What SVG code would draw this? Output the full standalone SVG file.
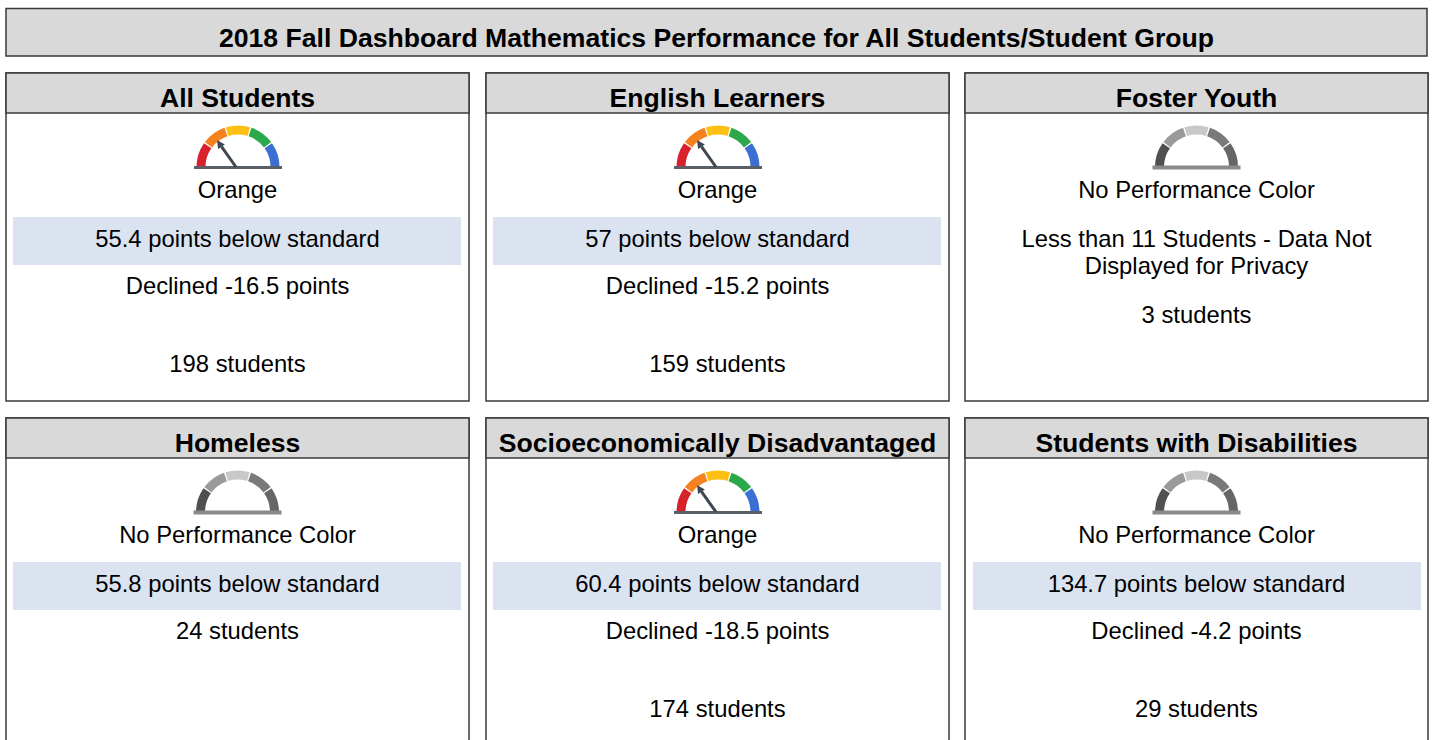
<svg xmlns="http://www.w3.org/2000/svg" xmlns:xlink="http://www.w3.org/1999/xlink" width="1433" height="740" viewBox="0 0 1433 740">
<style>
.box{fill:#ffffff;stroke:#3a3a3a;stroke-width:1.5}
.hdr{fill:#d9d9d9;stroke:#3a3a3a;stroke-width:1.5}
.band{fill:#dae3ef}
.ttl{font-family:"Liberation Sans",Arial,sans-serif;font-weight:bold;font-size:26.6px;fill:#000;text-anchor:middle}
.txt{font-family:"Liberation Sans",Arial,sans-serif;font-size:23.8px;fill:#000;text-anchor:middle}
.seg{fill:none;stroke-width:9}
</style>
<defs>
<g id="gaugeColor">
<path class="seg" stroke="#d7222b" d="M-37,0 A37,37 0 0 1 -30.31,-21.22"/>
<path class="seg" stroke="#f5821f" d="M-29.55,-22.27 A37,37 0 0 1 -12.05,-34.98"/>
<path class="seg" stroke="#fcbf12" d="M-10.82,-35.38 A37,37 0 0 1 10.82,-35.38"/>
<path class="seg" stroke="#2aa84a" d="M12.05,-34.98 A37,37 0 0 1 29.55,-22.27"/>
<path class="seg" stroke="#3b6fd4" d="M30.31,-21.22 A37,37 0 0 1 37,0"/>
<line x1="-44" y1="0.5" x2="44" y2="0.5" stroke="#5a6068" stroke-width="3"/>
<line x1="-2" y1="0" x2="-16.5" y2="-20.3" stroke="#3d4651" stroke-width="3"/>
<polygon points="-21,-27 -13.2,-22.6 -19.9,-18.1" fill="#3d4651"/>
</g>
<g id="gaugeGray">
<path class="seg" stroke="#505050" d="M-37,0 A37,37 0 0 1 -30.31,-21.22"/>
<path class="seg" stroke="#9a9a9a" d="M-29.55,-22.27 A37,37 0 0 1 -12.05,-34.98"/>
<path class="seg" stroke="#c8c8c8" d="M-10.82,-35.38 A37,37 0 0 1 10.82,-35.38"/>
<path class="seg" stroke="#7a7a7a" d="M12.05,-34.98 A37,37 0 0 1 29.55,-22.27"/>
<path class="seg" stroke="#666666" d="M30.31,-21.22 A37,37 0 0 1 37,0"/>
<line x1="-44" y1="0.5" x2="44" y2="0.5" stroke="#8a8a8a" stroke-width="4"/>
</g>
</defs>
<rect width="1433" height="740" fill="#ffffff"/>

<g id="title">
<rect class="hdr" x="6" y="8.5" width="1421" height="47.5"/>
<text class="ttl" x="716.5" y="47">2018 Fall Dashboard Mathematics Performance for All Students/Student Group</text>
</g>

<g id="all-students">
<rect class="box" x="6" y="73" width="463" height="328"/>
<rect class="hdr" x="6" y="73" width="463" height="40"/>
<text class="ttl" x="237.5" y="107">All Students</text>
<use xlink:href="#gaugeColor" x="238" y="167"/>
<text class="txt" x="237.5" y="198">Orange</text>
<rect class="band" x="13" y="217" width="448" height="48"/>
<text class="txt" x="237.5" y="247">55.4 points below standard</text>
<text class="txt" x="237.5" y="294">Declined -16.5 points</text>
<text class="txt" x="237.5" y="372">198 students</text>
</g>

<g id="english-learners">
<rect class="box" x="486" y="73" width="463" height="328"/>
<rect class="hdr" x="486" y="73" width="463" height="40"/>
<text class="ttl" x="717.5" y="107">English Learners</text>
<use xlink:href="#gaugeColor" x="718" y="167"/>
<text class="txt" x="717.5" y="198">Orange</text>
<rect class="band" x="493" y="217" width="448" height="48"/>
<text class="txt" x="717.5" y="247">57 points below standard</text>
<text class="txt" x="717.5" y="294">Declined -15.2 points</text>
<text class="txt" x="717.5" y="372">159 students</text>
</g>

<g id="foster-youth">
<rect class="box" x="965" y="73" width="463" height="328"/>
<rect class="hdr" x="965" y="73" width="463" height="40"/>
<text class="ttl" x="1196.5" y="107">Foster Youth</text>
<use xlink:href="#gaugeGray" x="1196.5" y="167"/>
<text class="txt" x="1196.5" y="198">No Performance Color</text>
<text class="txt" x="1196.5" y="247">Less than 11 Students - Data Not</text>
<text class="txt" x="1196.5" y="274">Displayed for Privacy</text>
<text class="txt" x="1196.5" y="323">3 students</text>
</g>

<g id="homeless">
<rect class="box" x="6" y="418" width="463" height="330"/>
<rect class="hdr" x="6" y="418" width="463" height="40"/>
<text class="ttl" x="237.5" y="452">Homeless</text>
<use xlink:href="#gaugeGray" x="237.5" y="512"/>
<text class="txt" x="237.5" y="543">No Performance Color</text>
<rect class="band" x="13" y="562" width="448" height="48"/>
<text class="txt" x="237.5" y="592">55.8 points below standard</text>
<text class="txt" x="237.5" y="639">24 students</text>
</g>

<g id="socioeconomically-disadvantaged">
<rect class="box" x="486" y="418" width="463" height="330"/>
<rect class="hdr" x="486" y="418" width="463" height="40"/>
<text class="ttl" x="717.5" y="452">Socioeconomically Disadvantaged</text>
<use xlink:href="#gaugeColor" x="718" y="512"/>
<text class="txt" x="717.5" y="543">Orange</text>
<rect class="band" x="493" y="562" width="448" height="48"/>
<text class="txt" x="717.5" y="592">60.4 points below standard</text>
<text class="txt" x="717.5" y="639">Declined -18.5 points</text>
<text class="txt" x="717.5" y="717">174 students</text>
</g>

<g id="students-with-disabilities">
<rect class="box" x="965" y="418" width="463" height="330"/>
<rect class="hdr" x="965" y="418" width="463" height="40"/>
<text class="ttl" x="1196.5" y="452">Students with Disabilities</text>
<use xlink:href="#gaugeGray" x="1196.5" y="512"/>
<text class="txt" x="1196.5" y="543">No Performance Color</text>
<rect class="band" x="973" y="562" width="448" height="48"/>
<text class="txt" x="1196.5" y="592">134.7 points below standard</text>
<text class="txt" x="1196.5" y="639">Declined -4.2 points</text>
<text class="txt" x="1196.5" y="717">29 students</text>
</g>

<g id="connectors"></g>
</svg>
